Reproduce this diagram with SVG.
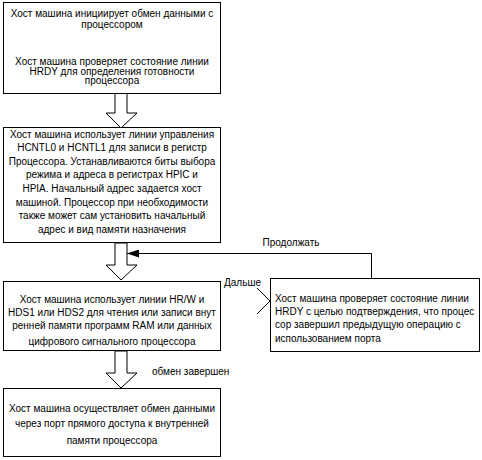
<svg xmlns="http://www.w3.org/2000/svg" width="482" height="460" viewBox="0 0 482 460">
<style>
.box{fill:#fff;stroke:#000;stroke-width:1}
.t{font-family:"Liberation Sans",Arial,sans-serif;font-size:10px;fill:#000}
.c{text-anchor:middle}
.blk{fill:#fff;stroke:#000;stroke-width:1}
.ln{fill:none;stroke:#000;stroke-width:1}
</style>
<defs>
<marker id="ah" markerWidth="12" markerHeight="8" refX="12" refY="4" orient="auto" markerUnits="userSpaceOnUse">
<path d="M0,0 L12,4 L0,8 Z" fill="#000"/>
</marker>
</defs>
<g id="connectors">
<polygon class="blk" points="115,93 115,113 106,113 121,128 137,113 127,113 127,93"/>
<polygon class="blk" points="115,243 115,265 106,265 121,280 137,265 127,265 127,243"/>
<polygon class="blk" points="115,351 115,373 106,373 121,388 137,373 127,373 127,351"/>
<polyline class="ln" points="371.5,278 371.5,253.5 127,253.5" marker-end="url(#ah)"/>
<polyline class="ln" points="257,288 270,301 257,314"/>
<text class="t c" x="291" y="246">Продолжать</text>
<text class="t" x="224" y="286">Дальше</text>
<text class="t" x="152" y="375">обмен завершен</text>
</g>
<g id="node1">
<rect class="box" x="3.5" y="2.5" width="217" height="91"/>
<text class="t c" x="112" y="17">Хост машина инициирует обмен данными с</text>
<text class="t c" x="112" y="27.5">процессором</text>
<text class="t c" x="112" y="65">Хост машина проверяет состояние линии</text>
<text class="t c" x="112" y="74.5">HRDY для определения готовности</text>
<text class="t c" x="112" y="84">процессора</text>
</g>
<g id="node2">
<rect class="box" x="3.5" y="127.5" width="217" height="115"/>
<text class="t c" x="112" y="137.5">Хост машина использует линии управления</text>
<text class="t c" x="112" y="151">HCNTL0 и HCNTL1 для записи в регистр</text>
<text class="t c" x="112" y="164.5">Процессора. Устанавливаются биты выбора</text>
<text class="t c" x="112" y="178">режима и адреса в регистрах HPIC и</text>
<text class="t c" x="112" y="192">HPIA. Начальный адрес задается хост</text>
<text class="t c" x="112" y="205.5">машиной. Процессор при необходимости</text>
<text class="t c" x="112" y="219">также может сам установить начальный</text>
<text class="t c" x="112" y="232.5">адрес и вид памяти назначения</text>
</g>
<g id="node3">
<rect class="box" x="3.5" y="281.5" width="217" height="69"/>
<text class="t c" x="112" y="302.5">Хост машина использует линии HR/W и</text>
<text class="t c" x="112" y="315.5">HDS1 или HDS2 для чтения или записи внут</text>
<text class="t c" x="112" y="328.5">ренней памяти программ RAM или данных</text>
<text class="t c" x="112" y="344.5">цифрового сигнального процессора</text>
</g>
<g id="node4">
<rect class="box" x="270.5" y="278.5" width="209" height="73"/>
<text class="t" x="275" y="301.5">Хост машина проверяет состояние линии</text>
<text class="t" x="275" y="314.5">HRDY с целью подтверждения, что процес</text>
<text class="t" x="275" y="327.5">сор завершил предыдущую операцию с</text>
<text class="t" x="275" y="341.5">использованием порта</text>
</g>
<g id="node5">
<rect class="box" x="3.5" y="388.5" width="217" height="68"/>
<text class="t c" x="112" y="411.5">Хост машина осуществляет обмен данными</text>
<text class="t c" x="112" y="426.5">через порт прямого доступа к внутренней</text>
<text class="t c" x="112" y="443.5">памяти процессора</text>
</g>
</svg>
